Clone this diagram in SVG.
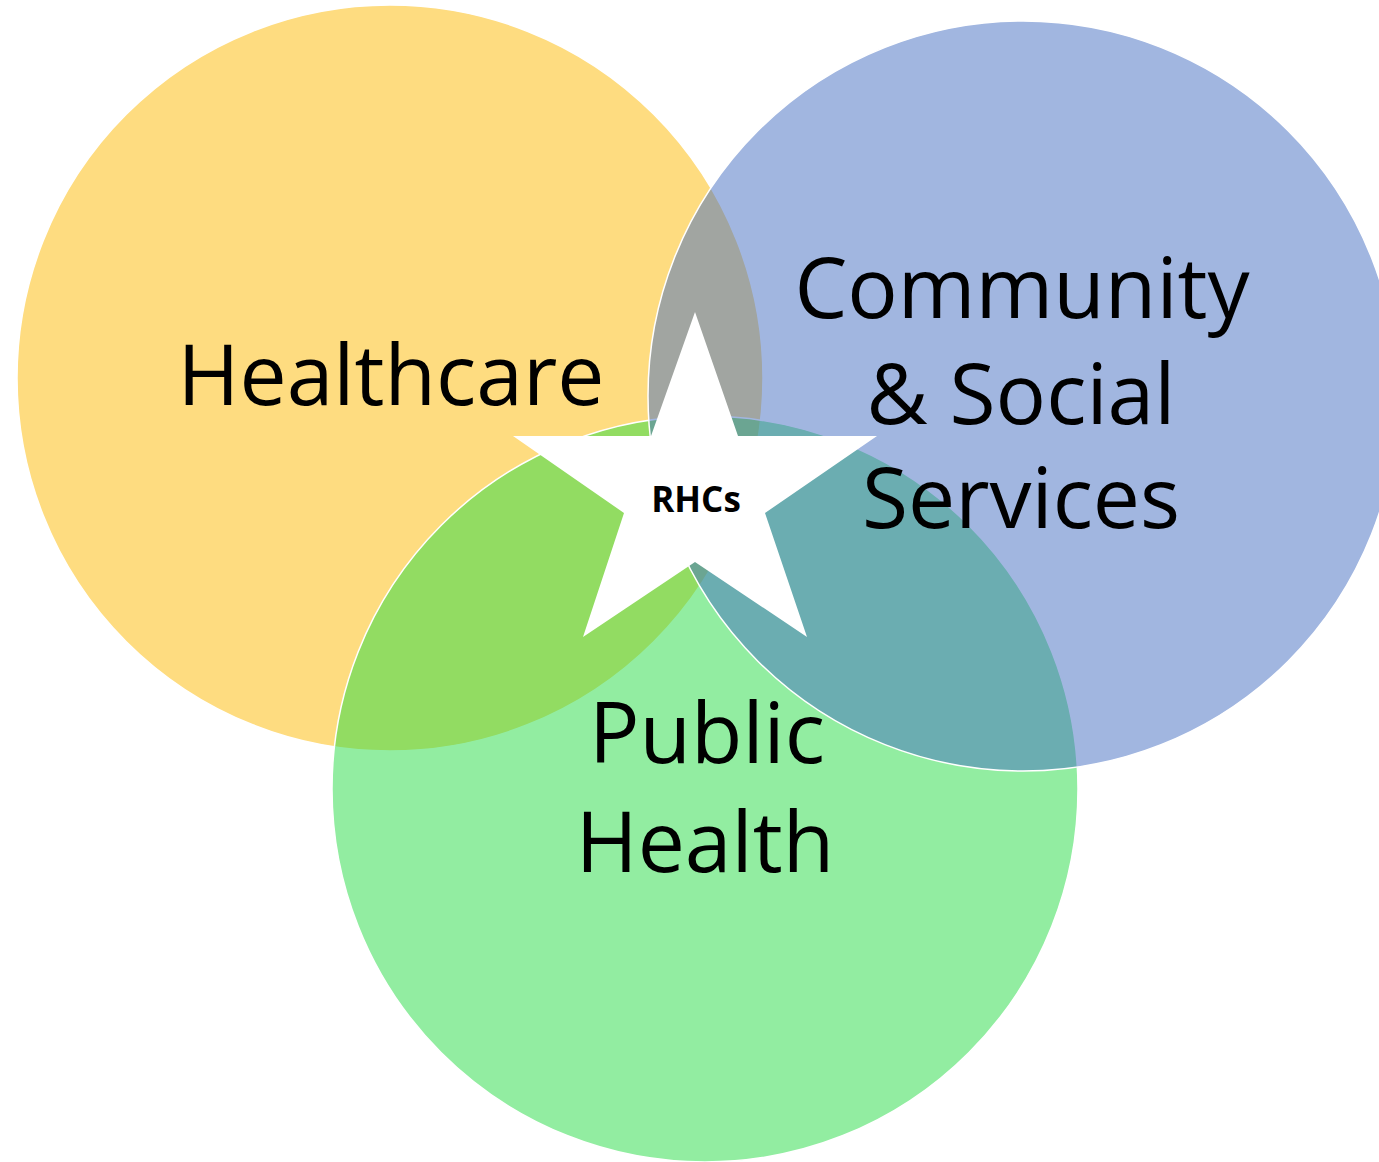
<svg xmlns="http://www.w3.org/2000/svg" width="1379" height="1162" viewBox="0 0 1379 1162">
  <style>
    .circle { stroke: #ffffff; stroke-width: 1.5; fill-opacity: 0.5; }
    .label { font-family: "Open Sans", "Noto Sans", "Liberation Sans", sans-serif; font-size: 84px; fill: #000000; text-anchor: middle; }
    .star-label { font-family: "Open Sans", "Noto Sans", "Liberation Sans", sans-serif; font-size: 35px; font-weight: bold; fill: #000000; text-anchor: middle; }
  </style>
  <rect x="0" y="0" width="1379" height="1162" fill="#ffffff"/>
  <g id="healthcare">
    <circle class="circle" cx="390" cy="378" r="373" fill="#FDB901"/>
    <text class="label" x="391" y="405">Healthcare</text>
  </g>
  <g id="public-health">
    <circle class="circle" cx="705" cy="789" r="373" fill="#25DB43"/>
    <text class="label" x="707" y="763">Public</text>
    <text class="label" x="705" y="872">Health</text>
  </g>
  <g id="community-social-services">
    <circle class="circle" cx="1023" cy="396" r="375" fill="#436DC1"/>
    <text class="label" x="1022" y="318">Community</text>
    <text class="label" x="1021" y="424">&amp; Social</text>
    <text class="label" x="1021" y="528">Services</text>
  </g>
  <g id="rhcs">
    <polygon points="695,312 738,436 877,436 765,513 807,637 695,562 583,637 624,513 513,436 651,436" fill="#ffffff"/>
    <text class="star-label" x="696" y="512">RHCs</text>
  </g>
</svg>
